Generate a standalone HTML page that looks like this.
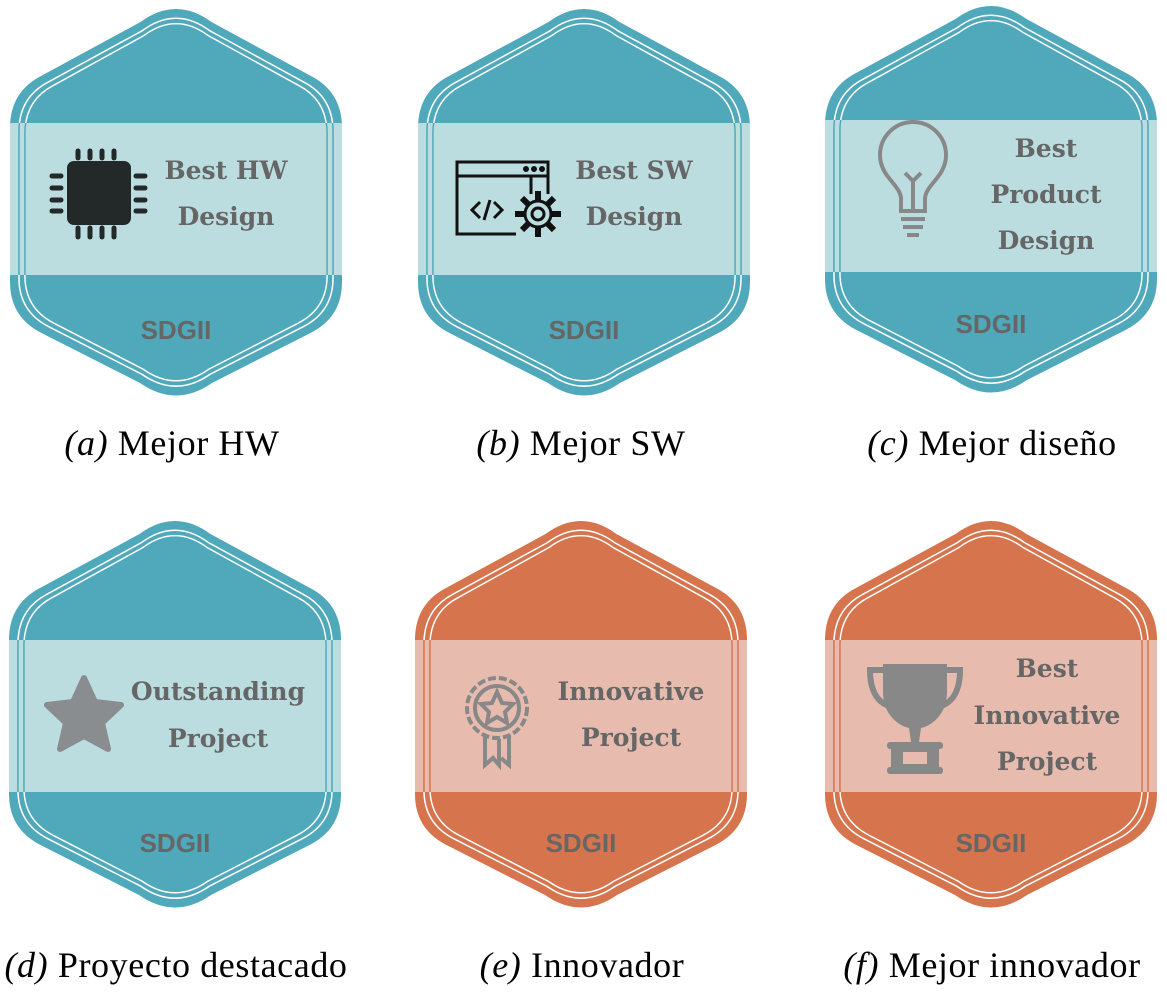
<!DOCTYPE html>
<html><head><meta charset="utf-8"><style>
html,body{margin:0;padding:0;background:#fff;width:1167px;height:992px;overflow:hidden}
svg{display:block}
.t{font-family:"DejaVu Serif","Liberation Serif",serif;font-weight:bold;font-size:25px;fill:#666;text-anchor:middle}
.s{font-family:"Liberation Sans",sans-serif;font-weight:bold;font-size:26px;fill:#666;text-anchor:middle}
.c{font-family:"Liberation Serif",serif;font-size:36px;letter-spacing:0.6px;fill:#000;text-anchor:middle}
</style></head><body>
<svg width="1167" height="992" viewBox="0 0 1167 992" xmlns="http://www.w3.org/2000/svg">
<defs>
<path id="sh" d="M130.5,14 Q166,-12 201.5,14 L301,68 Q332,84 332,120 L332,274 Q332,309 300.5,325 L202,375 Q166,400 130,375 L31.5,325 Q0,309 0,274 L0,120 Q0,84 31,68 Z"/>
<g id="ln" fill="none">
<use href="#sh" transform="translate(166,194) scale(.946,.952) translate(-166,-194)" stroke-width="1.6" vector-effect="non-scaling-stroke"/>
<use href="#sh" transform="translate(166,194) scale(.91,.924) translate(-166,-194)" stroke-width="1.6" vector-effect="non-scaling-stroke"/>
</g>
<clipPath id="bc"><rect x="0" y="115" width="332" height="152"/></clipPath>
<clipPath id="bc2"><rect x="0" y="120" width="332" height="152"/></clipPath>
</defs>

<g transform="translate(10,8)">
<use href="#sh" fill="#4FA9BB"/><use href="#ln" stroke="#fff"/>
<rect x="0" y="115" width="332" height="152" fill="#BCDDE0"/>
<g clip-path="url(#bc)"><use href="#ln" stroke="#4FA9BB"/></g>
<rect x="57" y="153" width="64" height="64" rx="7" fill="#232928"/>
<g stroke="#232928" stroke-width="5" stroke-linecap="round">
<line x1="68" y1="143" x2="68" y2="150"/><line x1="80" y1="143" x2="80" y2="150"/><line x1="92" y1="143" x2="92" y2="150"/><line x1="104" y1="143" x2="104" y2="150"/>
<line x1="68" y1="220" x2="68" y2="229"/><line x1="80" y1="220" x2="80" y2="229"/><line x1="92" y1="220" x2="92" y2="229"/><line x1="104" y1="220" x2="104" y2="229"/>
<line x1="42" y1="168" x2="51" y2="168"/><line x1="42" y1="180" x2="51" y2="180"/><line x1="42" y1="192" x2="51" y2="192"/><line x1="42" y1="203" x2="51" y2="203"/>
<line x1="126" y1="168" x2="135" y2="168"/><line x1="126" y1="180" x2="135" y2="180"/><line x1="126" y1="192" x2="135" y2="192"/><line x1="126" y1="203" x2="135" y2="203"/>
</g>
<text class="t" x="216" y="171">Best HW</text><text class="t" x="216" y="217">Design</text>
<text class="s" x="166" y="331">SDGII</text>
</g>

<g transform="translate(418,8)">
<use href="#sh" fill="#4FA9BB"/><use href="#ln" stroke="#fff"/>
<rect x="0" y="115" width="332" height="152" fill="#BCDDE0"/>
<g clip-path="url(#bc)"><use href="#ln" stroke="#4FA9BB"/></g>
<g fill="none" stroke="#111" stroke-width="3">
<path d="M98,226 H39 V154 H130 V186"/><line x1="39" y1="168" x2="130" y2="168"/>
<line x1="113" y1="168" x2="113" y2="186"/>
<path d="M62,194 l-8,8 8,8 M76,194 l8,8 -8,8 M72,192 l-6,20"/>
</g>
<g fill="#111"><circle cx="108" cy="161" r="3"/><circle cx="116" cy="161" r="3"/><circle cx="124" cy="161" r="3"/></g>
<g stroke="#111" stroke-width="6"><line x1="120" y1="183" x2="120" y2="229"/><line x1="97" y1="206" x2="143" y2="206"/><line x1="104" y1="190" x2="136" y2="222"/><line x1="136" y1="190" x2="104" y2="222"/></g>
<circle cx="120" cy="206" r="13" fill="#BCDDE0" stroke="#111" stroke-width="3"/><circle cx="120" cy="206" r="6" fill="none" stroke="#111" stroke-width="3"/>
<text class="t" x="216" y="171">Best SW</text><text class="t" x="216" y="217">Design</text>
<text class="s" x="166" y="331">SDGII</text>
</g>

<g transform="translate(825,5)">
<use href="#sh" fill="#4FA9BB"/><use href="#ln" stroke="#fff"/>
<rect x="0" y="115" width="332" height="152" fill="#BCDDE0"/>
<g clip-path="url(#bc)"><use href="#ln" stroke="#4FA9BB"/></g>
<g fill="none" stroke="#888" stroke-width="4">
<path d="M76,206 V194 C76,180 55,172 55,150 A33,33 0 0 1 121,150 C121,172 100,180 100,194 V206 Z"/>
<path d="M80,168 L88,176 L96,168 M88,176 V204"/>
<line x1="76" y1="214" x2="100" y2="214"/><line x1="78" y1="222" x2="98" y2="222"/><line x1="82" y1="230" x2="94" y2="230"/>
</g>
<text class="t" x="221" y="152">Best</text><text class="t" x="221" y="198">Product</text><text class="t" x="221" y="244">Design</text>
<text class="s" x="166" y="328">SDGII</text>
</g>

<g transform="translate(9,520)">
<use href="#sh" fill="#4FA9BB"/><use href="#ln" stroke="#fff"/>
<rect x="0" y="120" width="332" height="152" fill="#BCDDE0"/>
<g clip-path="url(#bc2)"><use href="#ln" stroke="#4FA9BB"/></g>
<polygon points="75,158 86,182 112,185 93,203 99,229 75,216 51,229 57,203 38,185 64,182" fill="#8a8d90" stroke="#8a8d90" stroke-width="6" stroke-linejoin="round"/>
<text class="t" x="209" y="180">Outstanding</text><text class="t" x="209" y="227">Project</text>
<text class="s" x="166" y="332">SDGII</text>
</g>

<g transform="translate(415,520)">
<use href="#sh" fill="#D6744D"/><use href="#ln" stroke="#fff"/>
<rect x="0" y="120" width="332" height="152" fill="#E8BBAF"/>
<g clip-path="url(#bc2)"><use href="#ln" stroke="#D6744D"/></g>
<g fill="none" stroke="#888" stroke-width="4">
<circle cx="82" cy="188" r="30" stroke-dasharray="8 3"/><circle cx="82" cy="188" r="22"/>
<polygon points="82,172 87,183 98,184 90,192 92,203 82,197 72,203 74,192 66,184 77,183"/>
<path d="M70,216 V245 L78,238 L84,245 V219 M94,216 V245 L86,238"/>
</g>
<text class="t" x="216" y="180">Innovative</text><text class="t" x="216" y="226">Project</text>
<text class="s" x="166" y="332">SDGII</text>
</g>

<g transform="translate(825,520)">
<use href="#sh" fill="#D6744D"/><use href="#ln" stroke="#fff"/>
<rect x="0" y="120" width="332" height="152" fill="#E8BBAF"/>
<g clip-path="url(#bc2)"><use href="#ln" stroke="#D6744D"/></g>
<g fill="#888">
<path d="M58,144 H122 V172 C122,195 106,206 96,208 L94,222 H86 L84,208 C74,206 58,195 58,172 Z"/>
<rect x="62" y="222" width="56" height="7" rx="3"/><rect x="66" y="229" width="48" height="20"/>
<rect x="62" y="247" width="56" height="7" rx="3"/>
</g>
<rect x="78" y="232" width="24" height="12" fill="#E8BBAF"/>
<g fill="none" stroke="#888" stroke-width="6"><path d="M58,150 H45 C45,170 52,182 64,186 M122,150 H135 C135,170 128,182 116,186"/></g>
<text class="t" x="222" y="157">Best</text><text class="t" x="222" y="204">Innovative</text><text class="t" x="222" y="250">Project</text>
<text class="s" x="166" y="332">SDGII</text>
</g>

<text class="c" x="172" y="455"><tspan font-style="italic">(a)</tspan> Mejor HW</text>
<text class="c" x="581" y="455"><tspan font-style="italic">(b)</tspan> Mejor SW</text>
<text class="c" x="992" y="455"><tspan font-style="italic">(c)</tspan> Mejor diseño</text>
<text class="c" x="176" y="977"><tspan font-style="italic">(d)</tspan> Proyecto destacado</text>
<text class="c" x="582" y="977"><tspan font-style="italic">(e)</tspan> Innovador</text>
<text class="c" x="992" y="977"><tspan font-style="italic">(f)</tspan> Mejor innovador</text>
</svg>
</body></html>
